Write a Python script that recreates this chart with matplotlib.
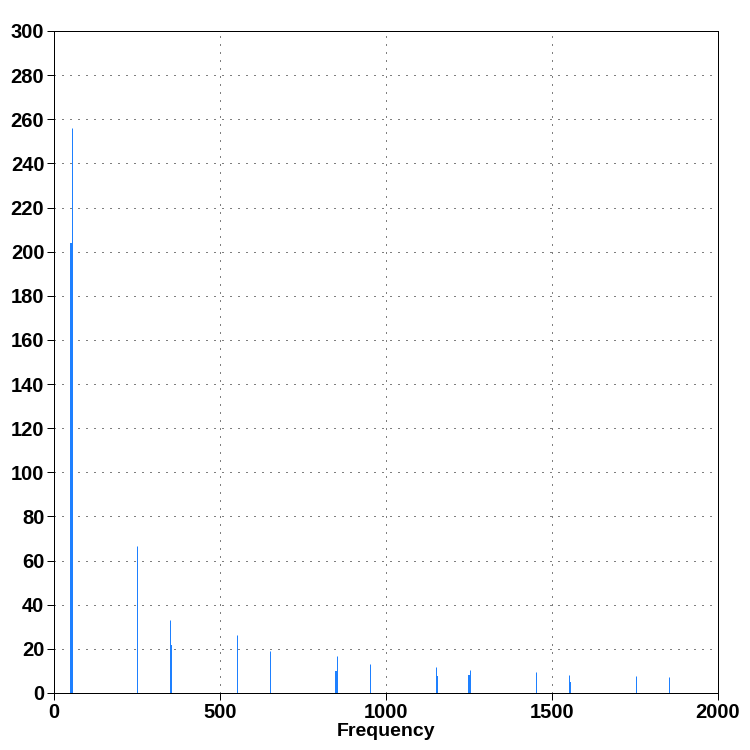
import matplotlib
matplotlib.use("Agg")
import matplotlib.pyplot as plt

# spectrum lines: (frequency, amplitude)
thick_freq = [50.5, 353, 850, 1153.5, 1250, 1555]
thick_amp = [204, 21.7, 10, 7.7, 8.3, 5.0]
thin_freq = [53, 251, 349.5, 552, 650.5, 853, 953, 1150.5, 1254, 1453, 1552, 1753, 1852]
thin_amp = [256, 66.7, 33, 26.3, 19, 16.8, 13.1, 11.8, 10.4, 9.5, 8.2, 7.7, 7.2]

blue = "#1e80ff"
px = 72 / 100

fig = plt.figure(figsize=(7.5, 7.5), dpi=100)
ax = fig.add_axes([0.072, 0.076, 0.885, 0.8827])

ax.vlines(thin_freq, 0, thin_amp, color=blue, lw=1 * px)
ax.vlines(thick_freq, 0, thick_amp, color=blue, lw=2 * px)

ax.set_xlim(0, 2000)
ax.set_ylim(0, 300)
ax.set_xticks(range(0, 2001, 500))
ax.set_yticks(range(0, 301, 20))
ax.grid(True, color="black", linestyle=(0, (1, 7)), linewidth=1 * px)
ax.set_axisbelow(True)

for s in ax.spines.values():
    s.set_linewidth(1 * px)
ax.tick_params(direction="out", length=5, width=1 * px, pad=2)
for lab in ax.get_xticklabels() + ax.get_yticklabels():
    lab.set_fontfamily("Liberation Sans")
    lab.set_fontweight("bold")
    lab.set_fontsize(14.5)
ax.set_xlabel("Frequency", fontfamily="Liberation Sans", fontweight="bold",
              fontsize=14, labelpad=1)

fig.savefig("out.png", dpi=100)
